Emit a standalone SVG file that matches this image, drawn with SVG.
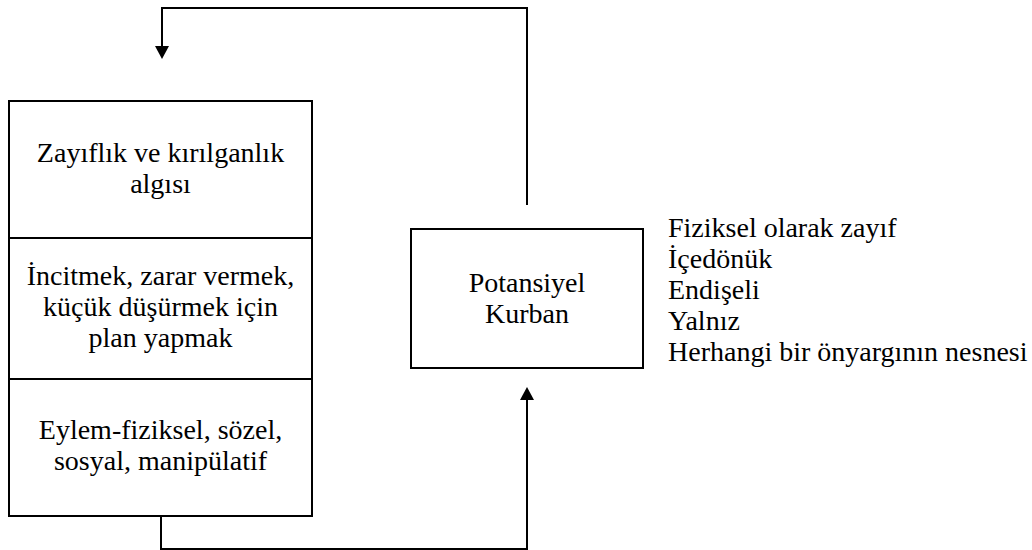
<svg xmlns="http://www.w3.org/2000/svg" width="1032" height="550" viewBox="0 0 1032 550">
<style>
.box{fill:#fff;stroke:#000;stroke-width:2}
.ln{fill:none;stroke:#000;stroke-width:2}
.t{font-family:"Liberation Serif","Times New Roman",serif;font-size:28px;fill:#000}
.c{text-anchor:middle}
</style>
<rect width="1032" height="550" fill="#fff"/>
<g id="connectors">
<path class="ln" d="M527,205 V8 H162 V47"/>
<polygon points="155,46 169,46 162,59" fill="#000"/>
<path class="ln" d="M161,516 V549 H527 V399"/>
<polygon points="520,400 534,400 527,387" fill="#000"/>
</g>
<g id="process">
<rect class="box" x="9" y="101" width="303" height="415"/>
<line class="ln" x1="9" y1="238" x2="312" y2="238"/>
<line class="ln" x1="9" y1="379" x2="312" y2="379"/>
</g>
<g id="perception">
<text class="t c" x="160.5" y="162">Zayıflık ve kırılganlık</text>
<text class="t c" x="160.5" y="193">algısı</text>
</g>
<g id="planning">
<text class="t c" x="160.5" y="285">İncitmek, zarar vermek,</text>
<text class="t c" x="160.5" y="316">küçük düşürmek için</text>
<text class="t c" x="160.5" y="347">plan yapmak</text>
</g>
<g id="action">
<text class="t c" x="160.5" y="439">Eylem-fiziksel, sözel,</text>
<text class="t c" x="160.5" y="470">sosyal, manipülatif</text>
</g>
<g id="victim">
<rect class="box" x="411" y="229" width="232" height="139"/>
<text class="t c" x="527" y="292">Potansiyel</text>
<text class="t c" x="527" y="323">Kurban</text>
</g>
<g id="traits">
<text class="t" x="668" y="237">Fiziksel olarak zayıf</text>
<text class="t" x="668" y="268">İçedönük</text>
<text class="t" x="668" y="299">Endişeli</text>
<text class="t" x="668" y="330">Yalnız</text>
<text class="t" x="668" y="361">Herhangi bir önyargının nesnesi</text>
</g>
</svg>
